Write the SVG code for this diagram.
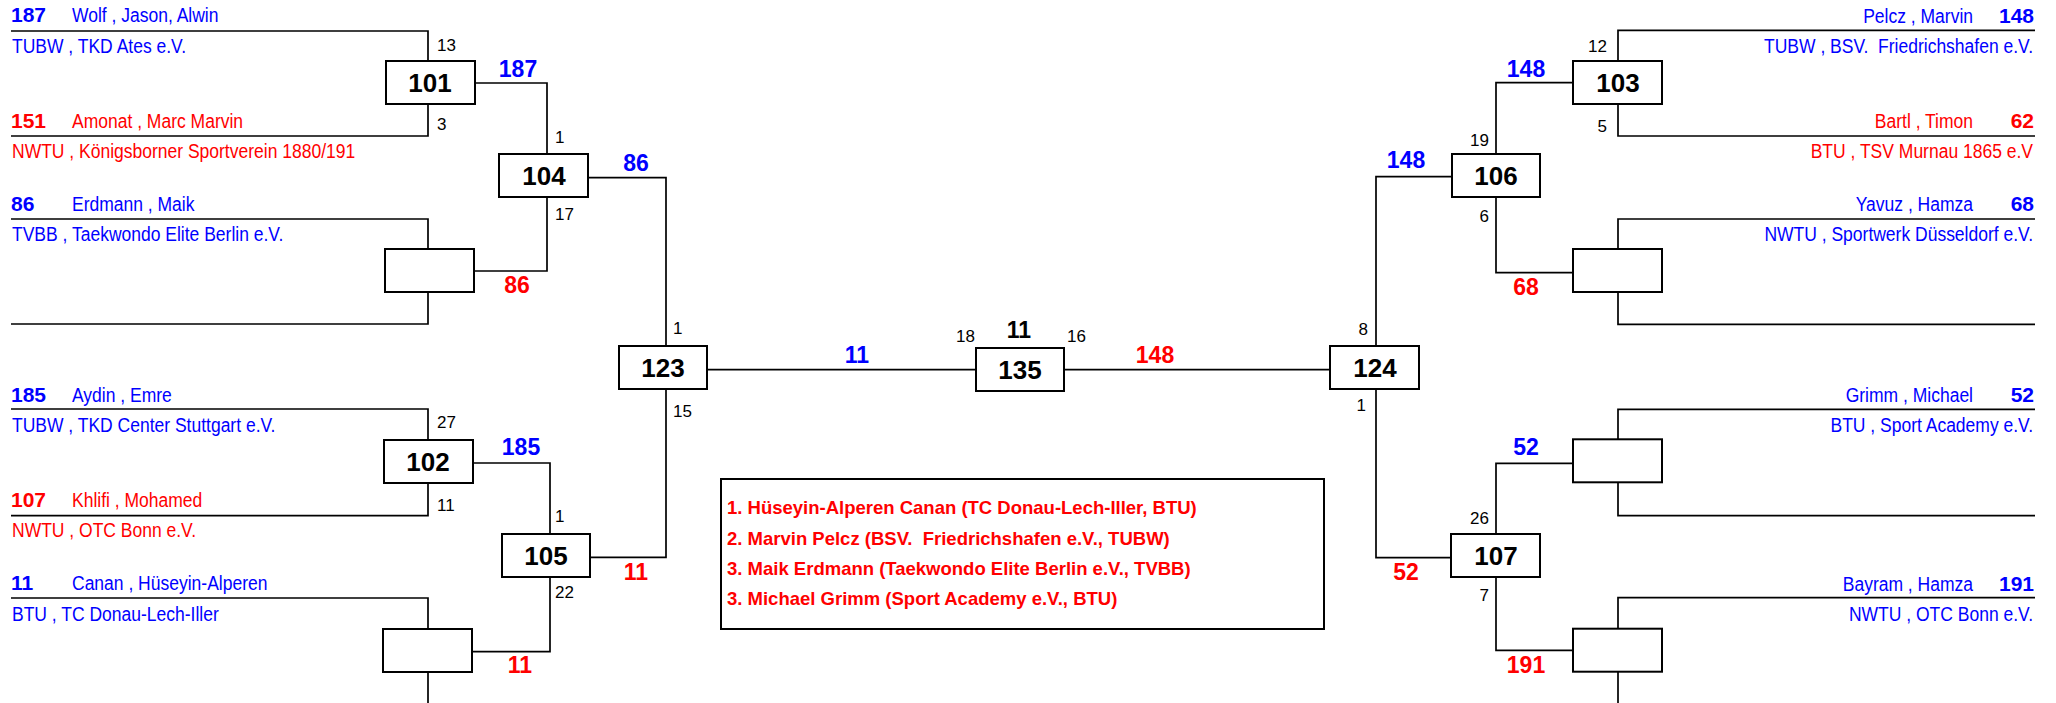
<svg xmlns="http://www.w3.org/2000/svg" width="2056" height="703" viewBox="0 0 2056 703" xml:space="preserve">
<style>
text{font-family:"Liberation Sans",Arial,sans-serif;white-space:pre}
.ln{fill:none;stroke:#000;stroke-width:1.7}
.bx{fill:#fff;stroke:#000;stroke-width:2}
.b{fill:#0000ff}
.r{fill:#ff0000}
.k{fill:#000}
.nm{font-size:20px}
.sd{font-size:21px;font-weight:bold}
.wl{font-size:23px;font-weight:bold;text-anchor:middle}
.bn{font-size:26px;font-weight:bold;text-anchor:middle;fill:#000}
.sm{font-size:17px;fill:#000}
.e{text-anchor:end}
.lg{font-size:18.5px;font-weight:bold;fill:#ff0000}
</style>
<rect width="2056" height="703" fill="#fff"/>
<g id="connectors" class="ln">
<path d="M11 31H428V61M428 104V136H11M11 219H428V249M428 292V324H11M11 409H428V440M428 483V515.7H11M11 598H428V629M428 672V703"/>
<path d="M475 83H547V154M547 197V271H474M473 463H550V534M550 577V651.7H472"/>
<path d="M588 177.7H666V346M666 389V557.3H590"/>
<path d="M707 369.7H976M1064 369.7H1330"/>
<path d="M1376 346V176.7H1452M1376 389V557.7H1451"/>
<path d="M1573 82.7H1496V154M1496 197V272.7H1573M1573 463.3H1496V534M1496 577V650.3H1573"/>
<path d="M1618 61V30.3H2035M1618 104V136H2035M1618 249V219H2035M1618 292V324.3H2035M1618 439.3V409.3H2035M1618 482.7V515.7H2035M1618 628.7V597.7H2035M1618 672V703"/>
</g>
<g id="m101"><rect class="bx" x="386" y="61" width="89" height="43"/><text class="bn" x="430" y="92">101</text><text class="sm" x="437" y="51">13</text><text class="sm" x="437" y="130">3</text></g>
<g id="mA"><rect class="bx" x="385" y="249" width="89" height="43"/></g>
<g id="m102"><rect class="bx" x="384" y="440" width="89" height="43"/><text class="bn" x="428" y="471">102</text><text class="sm" x="437" y="428">27</text><text class="sm" x="437" y="511">11</text></g>
<g id="mB"><rect class="bx" x="383" y="629" width="89" height="43"/></g>
<g id="m104"><rect class="bx" x="499" y="154" width="89" height="43"/><text class="bn" x="544" y="185">104</text><text class="sm" x="555" y="143">1</text><text class="sm" x="555" y="220">17</text></g>
<g id="m105"><rect class="bx" x="502" y="534" width="88" height="43"/><text class="bn" x="546" y="565">105</text><text class="sm" x="555" y="522">1</text><text class="sm" x="555" y="598">22</text></g>
<g id="m123"><rect class="bx" x="619" y="346" width="88" height="43"/><text class="bn" x="663" y="377">123</text><text class="sm" x="673" y="334">1</text><text class="sm" x="673" y="417">15</text></g>
<g id="m135"><rect class="bx" x="976" y="348" width="88" height="43"/><text class="bn" x="1020" y="379">135</text><text class="sm" x="956" y="342">18</text><text class="sm" x="1067" y="342">16</text><text class="wl k" x="1019" y="338">11</text></g>
<g id="m124"><rect class="bx" x="1330" y="346" width="89" height="43"/><text class="bn" x="1375" y="377">124</text><text class="sm e" x="1368" y="335">8</text><text class="sm e" x="1366" y="411">1</text></g>
<g id="m106"><rect class="bx" x="1452" y="154" width="88" height="43"/><text class="bn" x="1496" y="185">106</text><text class="sm e" x="1489" y="146">19</text><text class="sm e" x="1489" y="222">6</text></g>
<g id="m107"><rect class="bx" x="1451" y="534" width="89" height="43"/><text class="bn" x="1496" y="565">107</text><text class="sm e" x="1489" y="524">26</text><text class="sm e" x="1489" y="601">7</text></g>
<g id="m103"><rect class="bx" x="1573" y="61" width="89" height="43"/><text class="bn" x="1618" y="92">103</text><text class="sm e" x="1607" y="52">12</text><text class="sm e" x="1607" y="132">5</text></g>
<g id="mC"><rect class="bx" x="1573" y="249" width="89" height="43"/></g>
<g id="mD"><rect class="bx" x="1573" y="439.3" width="89" height="43"/></g>
<g id="mE"><rect class="bx" x="1573" y="628.7" width="89" height="43"/></g>
<g id="winners">
<text class="wl b" x="518" y="77">187</text>
<text class="wl r" x="517" y="293">86</text>
<text class="wl b" x="521" y="455">185</text>
<text class="wl r" x="520" y="673">11</text>
<text class="wl b" x="636" y="171">86</text>
<text class="wl r" x="636" y="580">11</text>
<text class="wl b" x="857" y="363">11</text>
<text class="wl r" x="1155" y="363">148</text>
<text class="wl b" x="1406" y="168">148</text>
<text class="wl r" x="1406" y="580">52</text>
<text class="wl b" x="1526" y="77">148</text>
<text class="wl r" x="1526" y="295">68</text>
<text class="wl b" x="1526" y="455">52</text>
<text class="wl r" x="1526" y="673">191</text>
</g>
<g id="p187"><text class="sd b" x="11" y="22">187</text><text class="nm b" transform="translate(72,22) scale(0.875,1)">Wolf , Jason, Alwin</text><text class="nm b" transform="translate(12,53) scale(0.875,1)">TUBW , TKD Ates e.V.</text></g>
<g id="p151"><text class="sd r" x="11" y="128">151</text><text class="nm r" transform="translate(72,128) scale(0.875,1)">Amonat , Marc Marvin</text><text class="nm r" transform="translate(12,158) scale(0.875,1)">NWTU , Königsborner Sportverein 1880/191</text></g>
<g id="p86"><text class="sd b" x="11" y="211">86</text><text class="nm b" transform="translate(72,211) scale(0.875,1)">Erdmann , Maik</text><text class="nm b" transform="translate(12,241) scale(0.875,1)">TVBB , Taekwondo Elite Berlin e.V.</text></g>
<g id="p185"><text class="sd b" x="11" y="402">185</text><text class="nm b" transform="translate(72,402) scale(0.875,1)">Aydin , Emre</text><text class="nm b" transform="translate(12,432) scale(0.875,1)">TUBW , TKD Center Stuttgart e.V.</text></g>
<g id="p107"><text class="sd r" x="11" y="507">107</text><text class="nm r" transform="translate(72,507) scale(0.875,1)">Khlifi , Mohamed</text><text class="nm r" transform="translate(12,537) scale(0.875,1)">NWTU , OTC Bonn e.V.</text></g>
<g id="p11"><text class="sd b" x="11" y="590">11</text><text class="nm b" transform="translate(72,590) scale(0.875,1)">Canan , Hüseyin-Alperen</text><text class="nm b" transform="translate(12,621) scale(0.875,1)">BTU , TC Donau-Lech-Iller</text></g>
<g id="p148"><text class="sd b e" x="2034" y="23">148</text><text class="nm b e" transform="translate(1973,23) scale(0.875,1)">Pelcz , Marvin</text><text class="nm b e" transform="translate(2033,53) scale(0.875,1)">TUBW , BSV.  Friedrichshafen e.V.</text></g>
<g id="p62"><text class="sd r e" x="2034" y="128">62</text><text class="nm r e" transform="translate(1973,128) scale(0.875,1)">Bartl , Timon</text><text class="nm r e" transform="translate(2033,158) scale(0.875,1)">BTU , TSV Murnau 1865 e.V</text></g>
<g id="p68"><text class="sd b e" x="2034" y="211">68</text><text class="nm b e" transform="translate(1973,211) scale(0.875,1)">Yavuz , Hamza</text><text class="nm b e" transform="translate(2033,241) scale(0.875,1)">NWTU , Sportwerk Düsseldorf e.V.</text></g>
<g id="p52"><text class="sd b e" x="2034" y="402">52</text><text class="nm b e" transform="translate(1973,402) scale(0.875,1)">Grimm , Michael</text><text class="nm b e" transform="translate(2033,432) scale(0.875,1)">BTU , Sport Academy e.V.</text></g>
<g id="p191"><text class="sd b e" x="2034" y="591">191</text><text class="nm b e" transform="translate(1973,591) scale(0.875,1)">Bayram , Hamza</text><text class="nm b e" transform="translate(2033,621) scale(0.875,1)">NWTU , OTC Bonn e.V.</text></g>
<g id="legend"><rect class="bx" x="721" y="479" width="603" height="150"/>
<text class="lg" x="727" y="514">1. Hüseyin-Alperen Canan (TC Donau-Lech-Iller, BTU)</text>
<text class="lg" x="727" y="545">2. Marvin Pelcz (BSV.  Friedrichshafen e.V., TUBW)</text>
<text class="lg" x="727" y="575">3. Maik Erdmann (Taekwondo Elite Berlin e.V., TVBB)</text>
<text class="lg" x="727" y="605">3. Michael Grimm (Sport Academy e.V., BTU)</text>
</g>
</svg>
